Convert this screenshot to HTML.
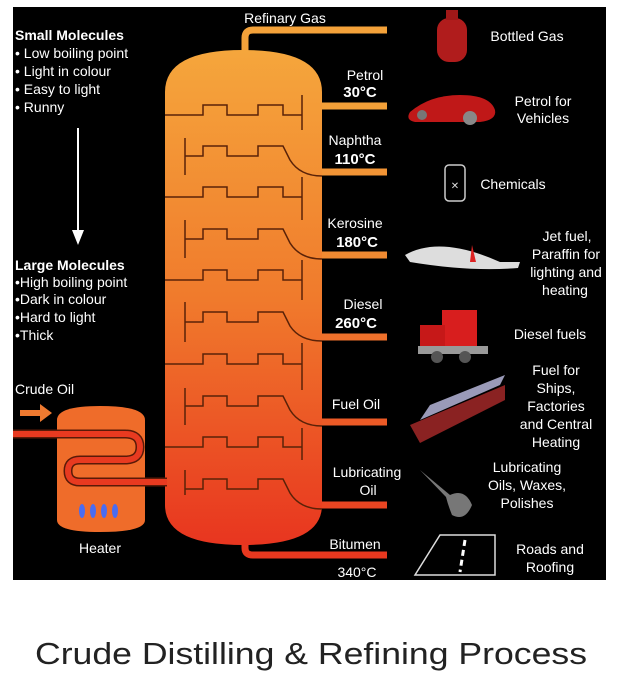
<!DOCTYPE html>
<html><head><meta charset="utf-8"><style>
html,body{margin:0;padding:0;background:#fff;width:622px;height:676px;overflow:hidden}
svg{display:block}
text{font-family:"Liberation Sans",sans-serif}
</style></head><body>
<svg width="622" height="676" viewBox="0 0 622 676" xmlns="http://www.w3.org/2000/svg">
<defs>
<linearGradient id="g" x1="0" y1="50" x2="0" y2="550" gradientUnits="userSpaceOnUse">
<stop offset="0" stop-color="#f5a63c"/><stop offset="0.5" stop-color="#f07a2c"/><stop offset="1" stop-color="#e8341f"/>
</linearGradient>
</defs>
<rect x="13" y="7" width="593" height="573" fill="#000"/>
<!-- pipes -->
<g fill="none" stroke-width="7" stroke-linecap="butt">
<path d="M245,55 V38 Q245,30 253,30 H387" stroke="#f4a23a"/>
<path d="M318,106 H387" stroke="#f3a038"/>
<path d="M300,165 Q305,172 315,172 H387" stroke="#f29435"/>
<path d="M300,248 Q305,255 315,255 H387" stroke="#f08a31"/>
<path d="M300,330 Q305,337 315,337 H387" stroke="#ee702b"/>
<path d="M300,415 Q305,422 315,422 H387" stroke="#ec5a26"/>
<path d="M300,498 Q305,505 315,505 H387" stroke="#ea4522"/>
<path d="M245,540 V548 Q245,555 253,555 H387" stroke="#e8381f"/>
</g>
<!-- column -->
<path d="M165,545 V92 Q165,50 243,50 Q322,50 322,92 V505 Q322,545 243,545 Q165,545 165,505 Z" fill="url(#g)"/>
<!-- trays -->
<g fill="none" stroke="#5a2208" stroke-width="1.5">
<path d="M165,115 H203 V105 H227 V115 H258 V105 H283 V115 H302 M302,95 V130"/>
<path d="M185,138 V175 M185,156 H203 V146 H227 V156 H258 V146 H283 L290,160 Q300,176 322,176"/>
<path d="M165,197 H203 V187 H227 V197 H258 V187 H283 V197 H302 M302,177 V220"/>
<path d="M185,220 V258 M185,239 H203 V229 H227 V239 H258 V229 H283 L290,243 Q300,259 322,259"/>
<path d="M165,280 H203 V270 H227 V280 H258 V270 H283 V280 H302 M302,260 V300"/>
<path d="M185,302 V342 M185,322 H203 V312 H227 V322 H258 V312 H283 L290,326 Q300,341 322,341"/>
<path d="M165,364 H203 V354 H227 V364 H258 V354 H283 V364 H302 M302,343 V390"/>
<path d="M185,388 V425 M185,406 H203 V396 H227 V406 H258 V396 H283 L290,410 Q300,426 322,426"/>
<path d="M165,447 H203 V437 H227 V447 H258 V437 H283 V447 H302 M302,428 V460"/>
<path d="M185,470 V495 M185,489 H203 V479 H227 V489 H258 V479 H283 L290,493 Q300,509 322,509"/>
</g>
<!-- heater -->
<path d="M57,520 V420 Q57,406 100,406 Q145,406 145,420 V520 Q145,532 100,532 Q57,532 57,520 Z" fill="#ef6c2a"/>
<path d="M13,434 H125 Q140,434 140,447 Q140,460 125,460 H80 Q68,460 68,471 Q68,482 80,482 H167" fill="none" stroke="#5a1a08" stroke-width="9"/>
<path d="M13,434 H125 Q140,434 140,447 Q140,460 125,460 H80 Q68,460 68,471 Q68,482 80,482 H167" fill="none" stroke="#e83a20" stroke-width="6"/>
<g fill="#4a6cf0"><ellipse cx="82" cy="511" rx="3" ry="7"/><ellipse cx="93" cy="511" rx="3" ry="7"/><ellipse cx="104" cy="511" rx="3" ry="7"/><ellipse cx="115" cy="511" rx="3" ry="7"/></g>
<path d="M20,410 H40 V404 L52,413 L40,422 V416 H20 Z" fill="#ef7a30"/>
<!-- left text -->
<g fill="#fff" font-size="14">
<text x="15" y="40" font-weight="bold">Small Molecules</text>
<text x="15" y="58">• Low boiling point</text>
<text x="15" y="76">• Light in colour</text>
<text x="15" y="94">• Easy to light</text>
<text x="15" y="112">• Runny</text>
<text x="15" y="270" font-weight="bold">Large Molecules</text>
<text x="15" y="287">•High boiling point</text>
<text x="15" y="304">•Dark in colour</text>
<text x="15" y="322">•Hard to light</text>
<text x="15" y="340">•Thick</text>
<text x="15" y="394">Crude Oil</text>
<text x="100" y="553" text-anchor="middle">Heater</text>
</g>
<path d="M78,128 V232" stroke="#fff" stroke-width="2"/>
<path d="M72,230 H84 L78,245 Z" fill="#fff"/>
<!-- column labels -->
<g fill="#fff" font-size="14" text-anchor="middle">
<text x="285" y="23">Refinary Gas</text>
<text x="365" y="80">Petrol</text><text x="360" y="97" font-weight="bold" font-size="15">30°C</text>
<text x="355" y="145">Naphtha</text><text x="355" y="164" font-weight="bold" font-size="15">110°C</text>
<text x="355" y="228">Kerosine</text><text x="357" y="247" font-weight="bold" font-size="15">180°C</text>
<text x="363" y="309">Diesel</text><text x="356" y="328" font-weight="bold" font-size="15">260°C</text>
<text x="356" y="409">Fuel Oil</text>
<text x="367" y="477">Lubricating</text><text x="368" y="495">Oil</text>
<text x="355" y="549">Bitumen</text><text x="357" y="577">340°C</text>
</g>
<!-- icons -->
<rect x="437" y="18" width="30" height="44" rx="12" fill="#b01c1c"/>
<rect x="446" y="10" width="12" height="10" fill="#a01818"/>
<path d="M410,112 Q430,95 460,95 Q490,95 495,110 Q497,120 480,122 H415 Q405,120 410,112 Z" fill="#c01818"/>
<circle cx="470" cy="118" r="7" fill="#888"/><circle cx="422" cy="115" r="5" fill="#777"/>
<rect x="445" y="165" width="20" height="36" rx="4" fill="none" stroke="#ccc" stroke-width="1.5"/>
<text x="455" y="189" fill="#ddd" font-size="10" text-anchor="middle">✕</text>
<path d="M405,255 Q440,235 500,262 L520,262 L518,268 Q470,272 410,262 Z" fill="#ddd"/>
<path d="M472,245 L476,262 L470,262 Z" fill="#d22"/>
<rect x="442" y="310" width="35" height="38" fill="#d81e1e"/>
<rect x="420" y="325" width="25" height="23" fill="#c61818"/>
<rect x="418" y="346" width="70" height="8" fill="#999"/>
<circle cx="437" cy="357" r="6" fill="#555"/><circle cx="465" cy="357" r="6" fill="#555"/>
<path d="M410,425 L505,385 L505,400 L420,443 Z" fill="#8a2222"/>
<path d="M420,420 L500,385 L505,375 L430,405 Z" fill="#9a9ab8"/>
<path d="M420,470 L450,495 Q465,488 472,505 Q465,522 452,515 Q448,505 446,497 Z" fill="#777"/>
<path d="M440,535 L495,535 L495,575 L415,575 Z" fill="none" stroke="#ddd" stroke-width="1.5"/>
<path d="M465,540 L460,572" stroke="#fff" stroke-width="3" stroke-dasharray="6,4"/>
<!-- right text -->
<g fill="#fff" font-size="14" text-anchor="middle">
<text x="527" y="41">Bottled Gas</text>
<text x="543" y="106">Petrol for</text><text x="543" y="123">Vehicles</text>
<text x="513" y="189">Chemicals</text>
<text x="567" y="241">Jet fuel,</text><text x="566" y="259">Paraffin for</text><text x="566" y="277">lighting and</text><text x="565" y="295">heating</text>
<text x="550" y="339">Diesel fuels</text>
<text x="556" y="375">Fuel for</text><text x="556" y="393">Ships,</text><text x="556" y="411">Factories</text><text x="556" y="429">and Central</text><text x="556" y="447">Heating</text>
<text x="527" y="472">Lubricating</text><text x="527" y="490">Oils, Waxes,</text><text x="527" y="508">Polishes</text>
<text x="550" y="554">Roads and</text><text x="550" y="572">Roofing</text>
</g>
<text x="311" y="664" fill="#222" font-size="31" text-anchor="middle" textLength="552" lengthAdjust="spacingAndGlyphs">Crude Distilling &amp; Refining Process</text>
</svg>
</body></html>
